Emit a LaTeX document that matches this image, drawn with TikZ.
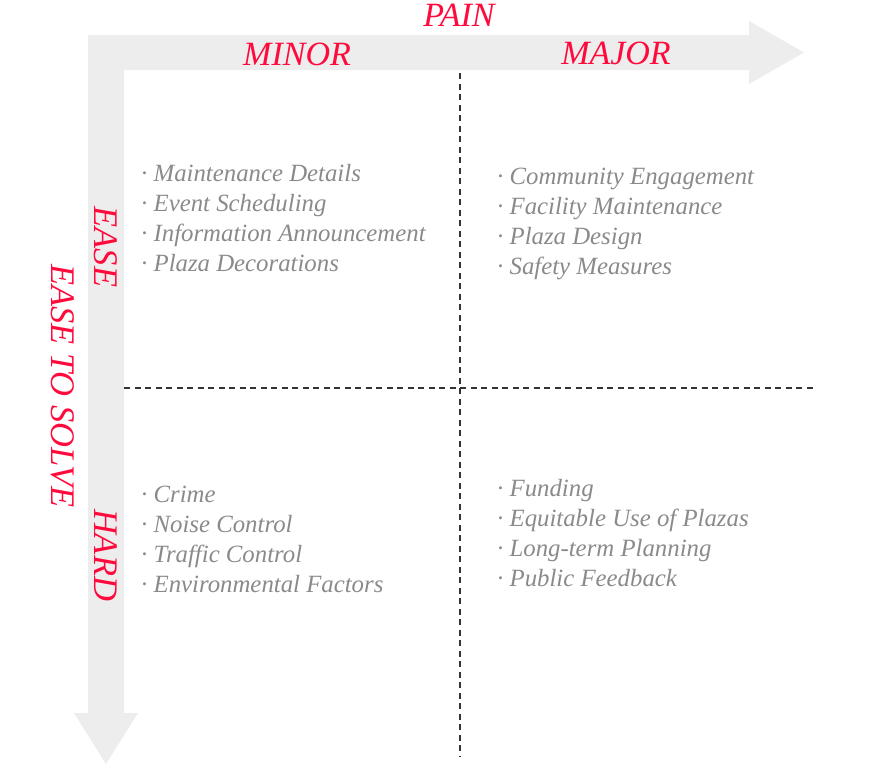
\documentclass[tikz,border=0pt]{standalone}
\usepackage{fontspec}
\setmainfont{Liberation Serif}
\definecolor{axisred}{HTML}{FF0A3C}
\definecolor{itemgray}{HTML}{8A8A8A}
\definecolor{bandgray}{HTML}{EDEDED}
\definecolor{dashgray}{HTML}{333333}
\tikzset{
  axislabel/.style={text=axisred,font=\fontsize{34}{34}\selectfont\itshape,inner sep=0pt},
  sidelabel/.style={text=axisred,font=\fontsize{34.5}{34.5}\selectfont\itshape,inner sep=0pt,rotate=-90},
  itemlist/.style={text=itemgray,font=\fontsize{24.8}{30}\selectfont\itshape,inner sep=0pt,anchor=north west,align=left},
  divider/.style={draw=dashgray,line width=1.4pt,dash pattern=on 6pt off 4.5pt}
}
\begin{document}
\begin{tikzpicture}[x=1pt,y=-1pt]
\useasboundingbox (0,0) rectangle (892,764);
% L-shaped arrow band
\fill[bandgray] (88,35) -- (749,35) -- (749,21) -- (804,52.5) -- (749,84) -- (749,70)
  -- (124,70) -- (124,713) -- (138,713) -- (106,764) -- (74,713) -- (88,713) -- cycle;
% dividers
\coordinate (vtop) at (460,73);
\coordinate (vbot) at (460,757);
\coordinate (hleft) at (124,388);
\coordinate (hright) at (813,388);
\draw[divider] (vtop) -- (vbot);
\draw[divider] (hleft) -- (hright);
% axis labels
\node[axislabel] (pain) at (459,15) {PAIN};
\node[axislabel] (minor) at (297,54) {MINOR};
\node[axislabel] (major) at (616,53) {MAJOR};
\node[sidelabel] (ease) at (106,247) {EASE};
\node[sidelabel] (hard) at (106,555) {HARD};
\node[sidelabel] (solve) at (63,386) {EASE TO SOLVE};
% quadrant items
\node[itemlist] (q1) at (141,164) {· Maintenance Details\\· Event Scheduling\\· Information Announcement\\· Plaza Decorations};
\node[itemlist] (q2) at (497,168) {· Community Engagement\\· Facility Maintenance\\· Plaza Design\\· Safety Measures};
\node[itemlist] (q3) at (141,486) {· Crime\\· Noise Control\\· Traffic Control\\· Environmental Factors};
\node[itemlist] (q4) at (497,479) {· Funding\\· Equitable Use of Plazas\\· Long-term Planning\\· Public Feedback};
\end{tikzpicture}
\end{document}
